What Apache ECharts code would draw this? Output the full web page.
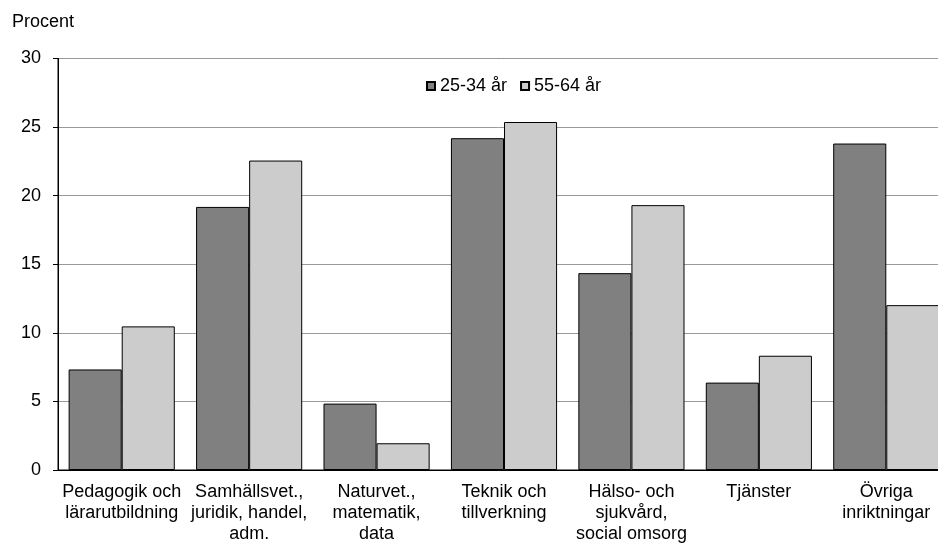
<!DOCTYPE html>
<html>
<head>
<meta charset="utf-8">
<script src="https://cdn.jsdelivr.net/npm/echarts@6/dist/echarts.min.js"></script>
<style>
html,body{margin:0;padding:0;background:#fff;}
#chart{width:938px;height:544px;}
</style>
</head>
<body>
<div id="chart"></div>
<script>
const categories = [
  "Pedagogik och\nlärarutbildning",
  "Samhällsvet.,\njuridik, handel,\nadm.",
  "Naturvet.,\nmatematik,\ndata",
  "Teknik och\ntillverkning",
  "Hälso- och\nsjukvård,\nsocial omsorg",
  "Tjänster",
  "Övriga\ninriktningar"
];
const seriesNames = ["25-34 år", "55-64 år"];
const young = [7.33, 19.18, 4.84, 24.19, 14.35, 6.37, 23.8];
const old = [10.47, 22.56, 1.95, 25.37, 19.31, 8.33, 12.02];
const yTicks = [0, 5, 10, 15, 20, 25, 30];

const font = "'Liberation Sans', Arial, sans-serif";
const chart = echarts.init(document.getElementById('chart'), null, {renderer: 'canvas'});
chart.setOption({
  animation: false,
  backgroundColor: '#fff',
  textStyle: {fontFamily: font, color: '#000'},
  title: {
    text: 'Procent', left: 12, top: 13, padding: 0,
    textStyle: {fontFamily: font, fontSize: 18, fontWeight: 'normal', color: '#000'}
  },
  legend: {
    data: seriesNames,
    left: 426, top: 77, padding: 0,
    itemWidth: 8, itemHeight: 8, itemGap: 13,
    textStyle: {fontFamily: font, fontSize: 18, color: '#000'},
    icon: 'rect'
  },
  grid: {
    left: 58, top: 58.5, right: -12, bottom: 74,
    outerBoundsMode: 'none',
    show: true, borderColor: '#000', borderWidth: 1, backgroundColor: 'transparent',
    containLabel: false
  },
  xAxis: {
    type: 'category',
    data: categories,
    axisLine: {show: true, lineStyle: {color: '#000', width: 1}},
    axisTick: {show: false},
    axisLabel: {
      interval: 0, margin: 12, fontFamily: font, fontSize: 18, color: '#000',
      lineHeight: 21
    }
  },
  yAxis: {
    type: 'value',
    min: yTicks[0], max: yTicks[yTicks.length - 1], interval: 5,
    axisLine: {show: true, lineStyle: {color: '#000', width: 1}},
    axisTick: {show: true, length: 5, lineStyle: {color: '#000'}},
    axisLabel: {fontFamily: font, fontSize: 18, color: '#000', margin: 17},
    splitLine: {show: true, lineStyle: {color: '#9a9a9a', width: 1}}
  },
  series: [
    {
      name: seriesNames[0], type: 'bar', data: young,
      barGap: '0%', barCategoryGap: '16.7%',
      itemStyle: {color: '#808080', borderColor: '#000', borderWidth: 1}
    },
    {
      name: seriesNames[1], type: 'bar', data: old,
      itemStyle: {color: '#cccccc', borderColor: '#000', borderWidth: 1}
    }
  ]
});
</script>
</body>
</html>
